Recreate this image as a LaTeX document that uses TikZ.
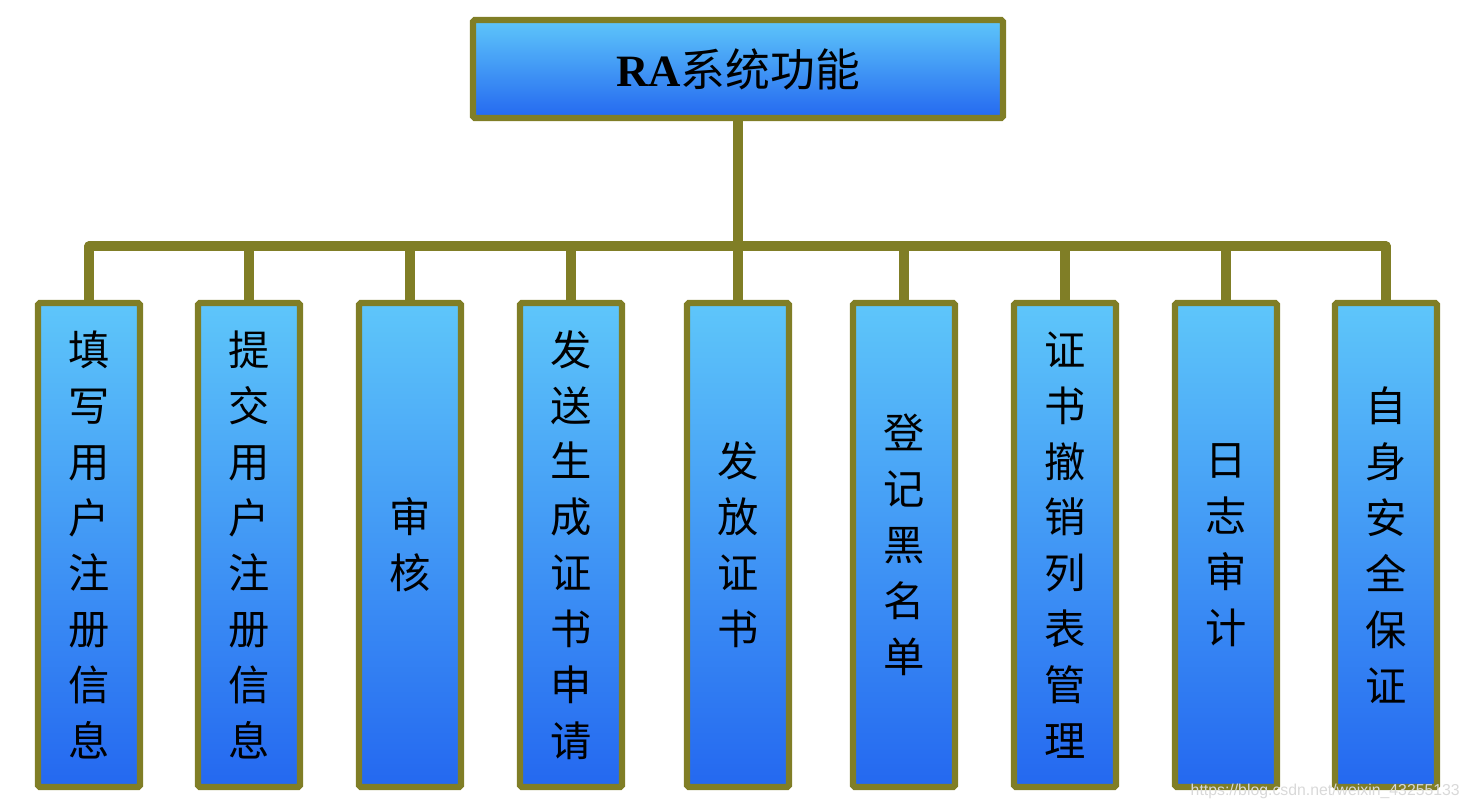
\documentclass[tikz,border=0pt]{standalone}
\usepackage{fontspec}
\setmainfont{Liberation Serif}
\newfontfamily\cjk{Noto Sans CJK SC}
\newfontfamily\wmfont{Liberation Sans}
\definecolor{olivebar}{RGB}{128,126,38}
\definecolor{boxtop}{RGB}{94,198,250}
\definecolor{boxbot}{RGB}{36,104,240}
\tikzset{
  funcbox/.style={draw=olivebar,line width=3.6pt,rounded corners=1pt,top color=boxtop,bottom color=boxbot,minimum width=2.04cm,minimum height=9.68cm,inner sep=0pt,align=center,font=\cjk\fontsize{23.5}{31.8}\selectfont},
  link/.style={olivebar,line width=5.2pt,line cap=round,line join=round}
}

\begin{document}
\begin{tikzpicture}
  \useasboundingbox (0,0) rectangle (29.52,-16.2);
  % conexiones
  \coordinate (bus) at (0,-4.92);
  % caja principal
  \node[funcbox,minimum width=10.6cm,minimum height=1.96cm,font=\fontsize{25.5}{28}\selectfont] (ra) at (14.76,-1.38) {\textbf{RA}{\cjk 系统功能}};
  % funciones
  \foreach \x/\txt [count=\i] in {1.78/{填\\写\\用\\户\\注\\册\\信\\息},4.98/{提\\交\\用\\户\\注\\册\\信\\息},8.2/{审\\核},11.42/{发\\送\\生\\成\\证\\书\\申\\请},14.76/{发\\放\\证\\书},18.08/{登\\记\\黑\\名\\单},21.3/{证\\书\\撤\\销\\列\\表\\管\\理},24.52/{日\\志\\审\\计},27.72/{自\\身\\安\\全\\保\\证}}
    \node[funcbox] (f\i) at (\x,-10.9) {\txt};
  \draw[link] (ra.south) -- (ra.south |- bus);
  \draw[link] (bus -| f1.north) -- (bus -| f9.north);
  \foreach \i in {1,...,9} \draw[link] (bus -| f\i.north) -- (f\i.north);
  \node[anchor=east,text=gray!30,font=\wmfont\fontsize{9}{11}\selectfont] (wm) at (29.32,-15.82) {https://blog.csdn.net/weixin\_43255133};
\end{tikzpicture}
\end{document}
